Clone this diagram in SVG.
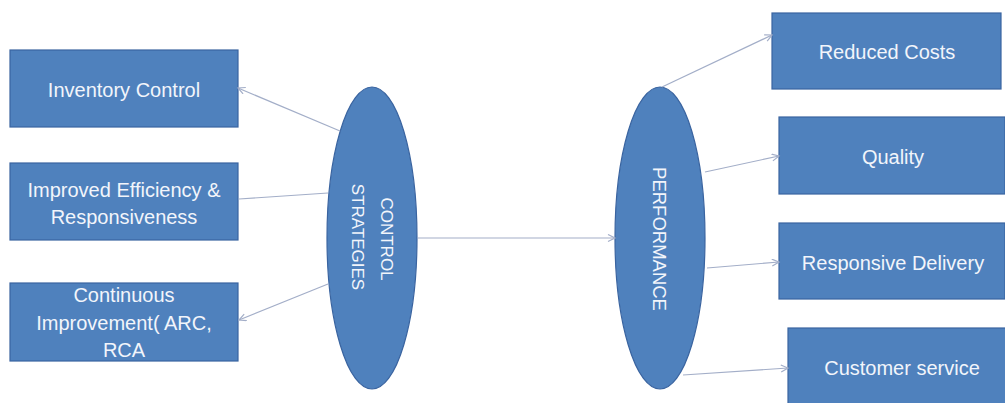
<svg xmlns="http://www.w3.org/2000/svg" width="1005" height="403" viewBox="0 0 1005 403">
<style>
.box{fill:#4f81bd;stroke:#3a64a0;stroke-width:1.2}
.oval{fill:#4f81bd;stroke:#3a64a0;stroke-width:1.2}
.t{font-family:"Liberation Sans",Arial,sans-serif;font-size:20px;fill:#f2f5fb;text-anchor:middle}
.r{font-size:18.5px}
.s{font-size:17px}
.c{stroke:#a3aec8;stroke-width:1.2;fill:none}
</style>
<defs>
<marker id="ah" markerWidth="10" markerHeight="10" refX="8" refY="4" orient="auto" markerUnits="userSpaceOnUse">
<path d="M1,0.5 L8,4 L1,7.5" fill="none" stroke="#a3aec8" stroke-width="1.2"/>
</marker>
</defs>
<rect width="1005" height="403" fill="#ffffff"/>
<g id="n-inventory"><rect class="box" x="10" y="50" width="228" height="77"/><text class="t" x="124" y="97">Inventory Control</text></g>
<g id="n-efficiency"><rect class="box" x="10" y="163" width="228" height="77"/><text class="t" x="124" y="197">Improved Efficiency &amp;</text><text class="t" x="124" y="224">Responsiveness</text></g>
<g id="n-continuous"><rect class="box" x="10" y="283" width="228" height="78"/><text class="t" x="124" y="302">Continuous</text><text class="t" x="124" y="330">Improvement( ARC,</text><text class="t" x="124" y="357">RCA</text></g>
<g id="n-control"><ellipse class="oval" cx="372" cy="238" rx="45" ry="151"/><text class="t s" transform="translate(387,239) rotate(90)" x="0" y="6">CONTROL</text><text class="t s" transform="translate(358,237) rotate(90)" x="0" y="6">STRATEGIES</text></g>
<g id="n-performance"><ellipse class="oval" cx="660" cy="238" rx="45" ry="151"/><text class="t r" transform="translate(660,239) rotate(90)" x="0" y="7">PERFORMANCE</text></g>
<g id="n-reduced"><rect class="box" x="772" y="13" width="229" height="76"/><text class="t" x="887" y="59">Reduced Costs</text></g>
<g id="n-quality"><rect class="box" x="779" y="117" width="226" height="77"/><text class="t" x="893" y="164">Quality</text></g>
<g id="n-delivery"><rect class="box" x="779" y="223" width="226" height="76"/><text class="t" x="893" y="270">Responsive Delivery</text></g>
<g id="n-customer"><rect class="box" x="788" y="328" width="220" height="80"/><text class="t" x="902" y="375">Customer service</text></g>
<g id="connectors">
<line class="c" x1="340" y1="131" x2="238" y2="88" marker-end="url(#ah)"/>
<line class="c" x1="328" y1="193" x2="239" y2="199"/>
<line class="c" x1="328" y1="284" x2="239" y2="320" marker-end="url(#ah)"/>
<line class="c" x1="418" y1="238" x2="615" y2="238" marker-end="url(#ah)"/>
<line class="c" x1="662" y1="87" x2="772" y2="35" marker-end="url(#ah)"/>
<line class="c" x1="705" y1="172" x2="779" y2="156" marker-end="url(#ah)"/>
<line class="c" x1="707" y1="268" x2="779" y2="262" marker-end="url(#ah)"/>
<line class="c" x1="683" y1="375" x2="788" y2="368" marker-end="url(#ah)"/>
</g>
</svg>
